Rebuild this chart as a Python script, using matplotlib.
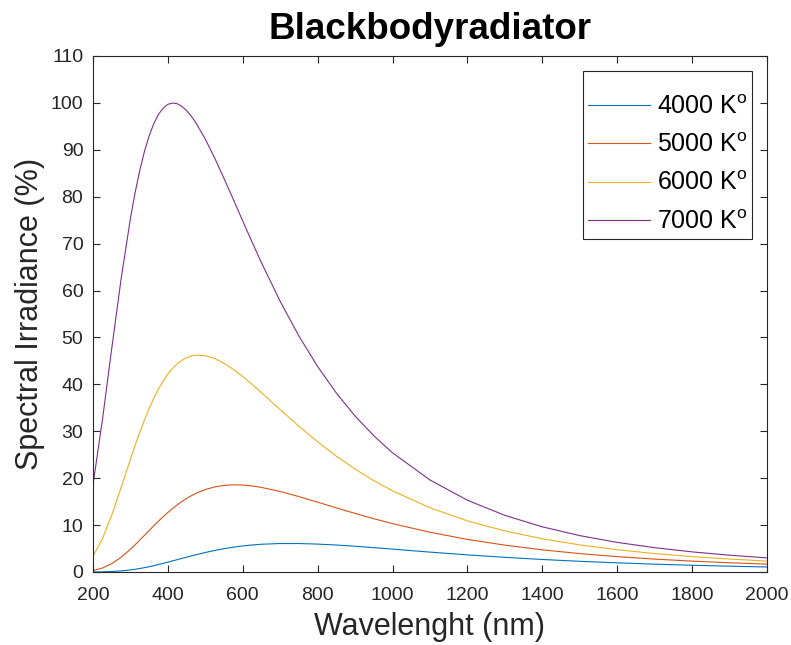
import numpy as np
import matplotlib
matplotlib.use("Agg")
import matplotlib.pyplot as plt

# wavelengths (nm) and spectral irradiance (%)
wavelength = [200, 225, 250, 275, 300, 312.5, 325, 337.5, 350, 362.5, 375, 387.5,
              400, 412.5, 425, 437.5, 450, 462.5, 475, 500, 525, 550, 575, 600,
              625, 650, 700, 750, 800, 850, 900, 950, 1000, 1100, 1200, 1300,
              1400, 1500, 1600, 1700, 1800, 1900, 2000]

irr_4000 = [0.008, 0.034, 0.100, 0.230, 0.442, 0.582, 0.745, 0.929, 1.13, 1.356,
            1.59, 1.842, 2.10, 2.366, 2.63, 2.902, 3.17, 3.428, 3.68, 4.16,
            4.594, 4.97, 5.293, 5.56, 5.762, 5.92, 6.07, 6.07, 5.95, 5.747,
            5.49, 5.188, 4.88, 4.24, 3.65, 3.13, 2.67, 2.278, 1.95, 1.670,
            1.44, 1.239, 1.07]
irr_5000 = [0.305, 0.837, 1.78, 3.14, 4.86, 5.817, 6.81, 7.832, 8.86, 9.866,
            10.85, 11.80, 12.70, 13.54, 14.32, 15.04, 15.69, 16.26, 16.77, 17.58,
            18.14, 18.46, 18.59, 18.54, 18.34, 18.03, 17.16, 16.07, 14.88, 13.67,
            12.48, 11.36, 10.31, 8.47, 6.95, 5.72, 4.72, 3.921, 3.27, 2.748,
            2.32, 1.970, 1.68]
irr_6000 = [3.36, 7.06, 12.10, 17.96, 24.05, 27.00, 29.82, 32.45, 34.89, 37.08,
            39.03, 40.74, 42.19, 43.40, 44.38, 45.14, 45.68, 46.04, 46.22, 46.12,
            45.51, 44.49, 43.18, 41.65, 39.98, 38.22, 34.60, 31.07, 27.74, 24.68,
            21.93, 19.47, 17.30, 13.69, 10.90, 8.75, 7.08, 5.773, 4.75, 3.932,
            3.28, 2.759, 2.33]
irr_7000 = [18.61, 32.35, 47.63, 62.46, 75.41, 80.89, 85.66, 89.69, 93.00, 95.61,
            97.57, 98.91, 99.70, 99.98, 99.82, 99.26, 98.36, 97.18, 95.73, 92.27,
            88.25, 83.87, 79.37, 74.80, 70.30, 65.91, 57.68, 50.29, 43.79, 38.13,
            33.24, 29.03, 25.40, 19.61, 15.30, 12.07, 9.63, 7.758, 6.31, 5.184,
            4.29, 3.583, 3.01]

labels = ["4000 K$^{\\mathrm{o}}$", "5000 K$^{\\mathrm{o}}$",
          "6000 K$^{\\mathrm{o}}$", "7000 K$^{\\mathrm{o}}$"]
colors = ["#0072BD", "#D95319", "#EDB120", "#7E2F8E"]

plt.rcParams['font.family'] = ['Liberation Sans', 'DejaVu Sans']
plt.rcParams['mathtext.fontset'] = 'custom'
plt.rcParams['mathtext.rm'] = 'Liberation Sans'

fig = plt.figure(figsize=(7.91, 6.45), dpi=100)
ax = fig.add_axes([93 / 791, 73 / 645, 674 / 791, 516 / 645])

for series, label, color in zip([irr_4000, irr_5000, irr_6000, irr_7000], labels, colors):
    ax.plot(wavelength, series, color=color, lw=0.8, label=label)

ax.set_xlim(200, 2000)
ax.set_ylim(0, 110)
ax.set_xticks(np.arange(200, 2001, 200))
ax.set_yticks(np.arange(0, 111, 10))

edge = "#262626"
for side in ax.spines.values():
    side.set_color(edge)
    side.set_linewidth(0.8)
ax.tick_params(direction="in", top=True, right=True, length=5, width=0.8,
               color=edge, labelcolor=edge, labelsize=14)
ax.tick_params(axis="x", pad=11)
ax.tick_params(axis="y", pad=7)

ax.set_xlabel("Wavelenght (nm)", fontsize=22, color=edge, labelpad=5.5)
ax.set_ylabel("Spectral Irradiance (%)", fontsize=22, color=edge, labelpad=4)
ax.set_title("Blackbodyradiator", fontsize=26.5, fontweight="bold", pad=12)

# a blank legend title pushes the entries down inside the box, as in MATLAB
leg = ax.legend(loc="upper right", fontsize=18, handlelength=2.5, handletextpad=0.25,
                borderpad=0.2, labelspacing=0.58, fancybox=False, framealpha=1,
                borderaxespad=0.6, title=" ", title_fontsize=3)
leg.get_frame().set_edgecolor(edge)
leg.get_frame().set_linewidth(0.8)

fig.savefig("out.png", dpi=100)
